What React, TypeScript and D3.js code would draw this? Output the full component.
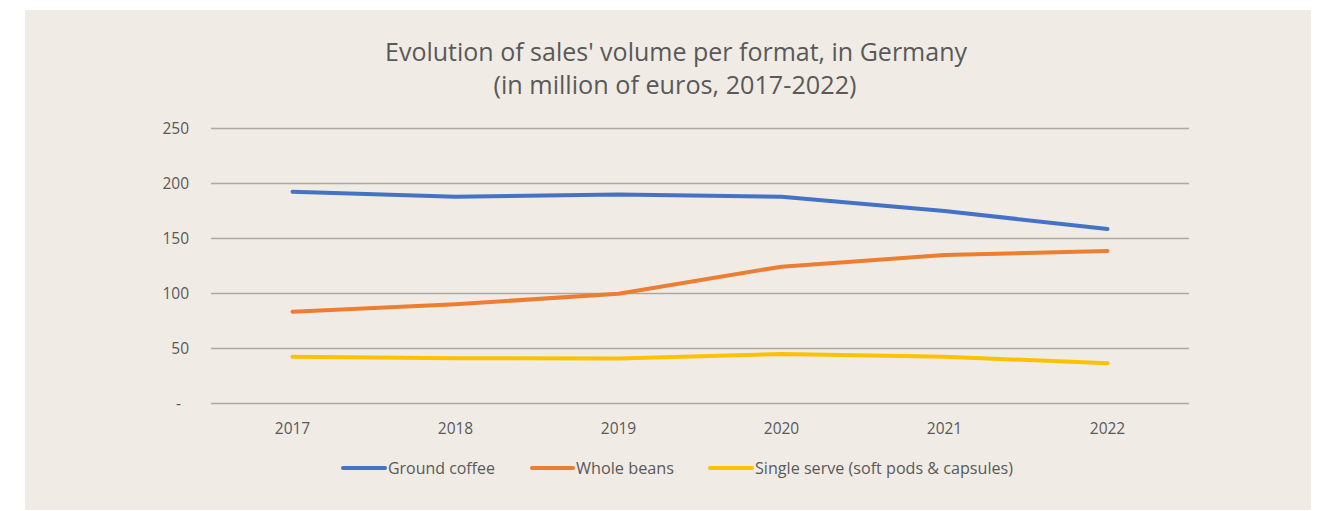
import React, { useEffect, useRef } from 'react';
import * as d3 from 'd3';

// Chart data
const years: string[] = ['2017', '2018', '2019', '2020', '2021', '2022'];
const groundCoffee: number[] = [192.5, 188, 190, 188, 175, 158.6];
const wholeBeans: number[] = [83.5, 90.2, 99.8, 124.4, 135, 138.6];
const singleServe: number[] = [42.6, 41.1, 41, 45, 42.6, 36.5];
const yTicks: number[] = [0, 50, 100, 150, 200, 250];
const seriesNames: string[] = ['Ground coffee', 'Whole beans', 'Single serve (soft pods & capsules)'];
const seriesColors: string[] = ['#4472C4', '#ED7D31', '#FFC000'];

const W = 1322;
const H = 511;
const FONT = '"Open Sans", Lato, sans-serif';

const App: React.FC = () => {
  const svgRef = useRef<SVGSVGElement>(null);

  useEffect(() => {
    if (!svgRef.current) return;
    const svg = d3.select(svgRef.current);
    svg.selectAll('*').remove();

    // Panel background
    svg.append('rect')
      .attr('x', 25).attr('y', 10)
      .attr('width', 1286).attr('height', 500)
      .attr('fill', '#F0ECE5');

    // Title (two lines, centred)
    const title = svg.append('text')
      .attr('text-anchor', 'middle')
      .attr('font-family', FONT)
      .attr('font-size', 25)
      .attr('fill', '#595959');
    title.append('tspan').attr('x', 676).attr('y', 61)
      .attr('textLength', 582).attr('lengthAdjust', 'spacingAndGlyphs')
      .text("Evolution of sales' volume per format, in Germany");
    title.append('tspan').attr('x', 675).attr('y', 94)
      .attr('textLength', 363).attr('lengthAdjust', 'spacingAndGlyphs')
      .text('(in million of euros, 2017-2022)');

    // Scales
    const x = d3.scaleBand<string>().domain(years).range([211, 1189]);
    const y = d3.scaleLinear().domain([0, 250]).range([403.5, 128.5]);

    // Gridlines
    svg.append('g')
      .selectAll('line')
      .data(yTicks)
      .enter()
      .append('line')
      .attr('x1', 211).attr('x2', 1189)
      .attr('y1', d => y(d)).attr('y2', d => y(d))
      .attr('stroke', '#ABA9A5')
      .attr('stroke-width', 1.5);

    // Y labels
    svg.append('g')
      .selectAll('text')
      .data(yTicks)
      .enter()
      .append('text')
      .attr('x', d => (d === 0 ? 181 : 189))
      .attr('y', d => y(d) + 5.5)
      .attr('text-anchor', 'end')
      .attr('font-family', FONT)
      .attr('font-size', 15.5)
      .attr('fill', '#595959')
      .text(d => (d === 0 ? '-' : String(d)));

    // X labels
    svg.append('g')
      .selectAll('text')
      .data(years)
      .enter()
      .append('text')
      .attr('x', d => (x(d) as number) + x.bandwidth() / 2)
      .attr('y', 434)
      .attr('text-anchor', 'middle')
      .attr('font-family', FONT)
      .attr('font-size', 15.5)
      .attr('fill', '#595959')
      .text(d => d);

    // Lines
    const line = d3.line<number>()
      .x((_, i) => (x(years[i]) as number) + x.bandwidth() / 2)
      .y(d => y(d));

    [groundCoffee, wholeBeans, singleServe].forEach((s, i) => {
      svg.append('path')
        .datum(s)
        .attr('d', line)
        .attr('fill', 'none')
        .attr('stroke', seriesColors[i])
        .attr('stroke-width', 4)
        .attr('stroke-linecap', 'round')
        .attr('stroke-linejoin', 'round');
    });

    // Legend
    const legendItems = [
      { x1: 343, x2: 385, tx: 388, tw: 107 },
      { x1: 532, x2: 573, tx: 576, tw: 98 },
      { x1: 710, x2: 752, tx: 755, tw: 258 },
    ];
    const legend = svg.append('g');
    legendItems.forEach((it, i) => {
      legend.append('line')
        .attr('x1', it.x1).attr('x2', it.x2)
        .attr('y1', 468).attr('y2', 468)
        .attr('stroke', seriesColors[i])
        .attr('stroke-width', 4)
        .attr('stroke-linecap', 'round');
      legend.append('text')
        .attr('x', it.tx).attr('y', 474)
        .attr('font-family', FONT)
        .attr('font-size', 16)
        .attr('fill', '#595959')
        .attr('textLength', it.tw)
        .attr('lengthAdjust', 'spacingAndGlyphs')
        .text(seriesNames[i]);
    });
  }, []);

  return (
    <svg
      ref={svgRef}
      width={W}
      height={H}
      style={{ position: 'absolute', left: 0, top: 0, display: 'block', background: '#fff' }}
    />
  );
};

export default App;
